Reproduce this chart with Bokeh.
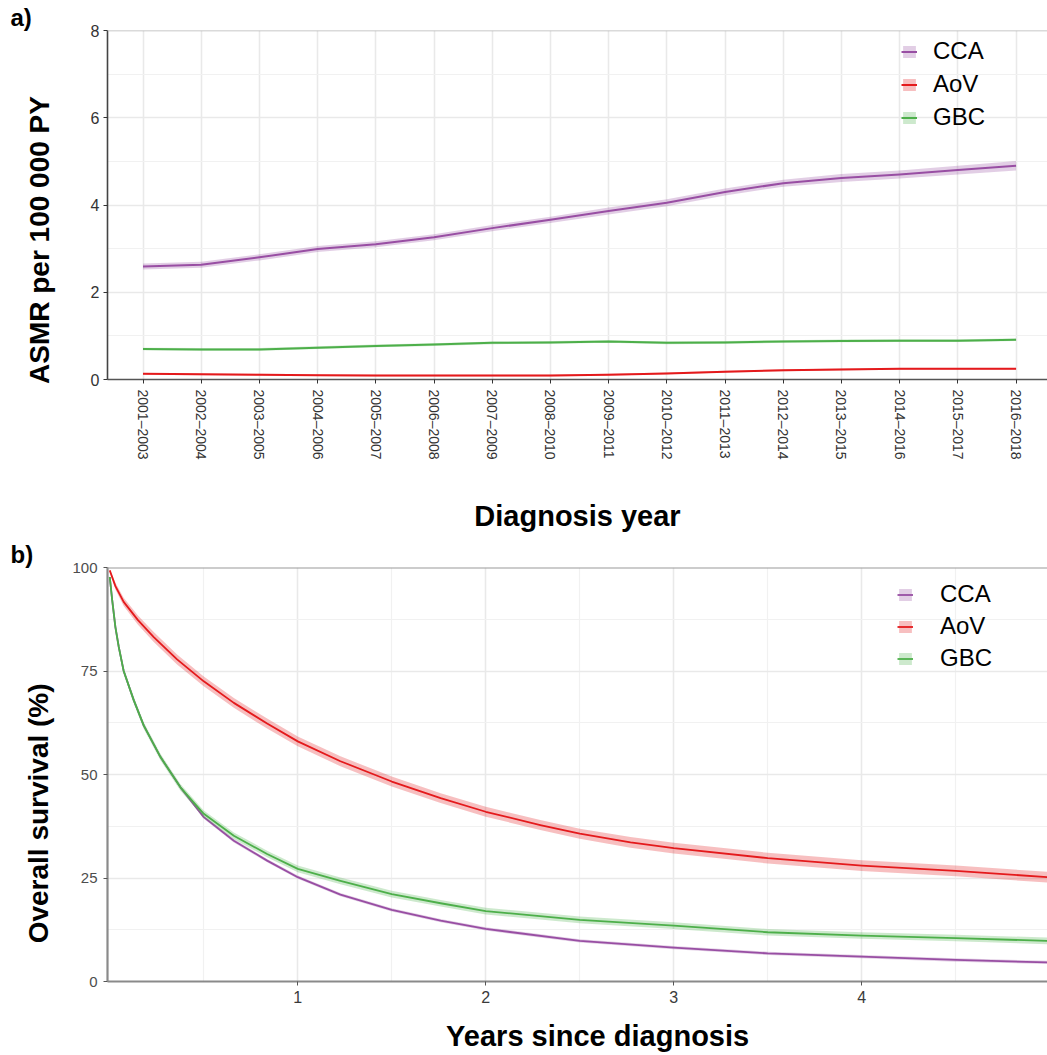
from bokeh.plotting import figure
from bokeh.models import FixedTicker, Legend, LegendItem, Span, Title
from bokeh.layouts import column
from bokeh.embed import file_html
from bokeh.resources import INLINE

# ---------------- data: age-standardised mortality by diagnosis period ----------------
PERIODS = ["2001–2003", "2002–2004", "2003–2005", "2004–2006", "2005–2007",
           "2006–2008", "2007–2009", "2008–2010", "2009–2011", "2010–2012",
           "2011–2013", "2012–2014", "2013–2015", "2014–2016", "2015–2017",
           "2016–2018"]

CCA_RATE = [2.59, 2.63, 2.80, 2.99, 3.10, 3.26, 3.47, 3.66, 3.86, 4.05, 4.30, 4.50, 4.62, 4.70, 4.80, 4.90]
CCA_LO   = [2.52, 2.56, 2.73, 2.92, 3.03, 3.19, 3.40, 3.59, 3.78, 3.97, 4.22, 4.42, 4.53, 4.61, 4.70, 4.79]
CCA_HI   = [2.66, 2.70, 2.87, 3.06, 3.17, 3.33, 3.54, 3.73, 3.94, 4.13, 4.38, 4.58, 4.71, 4.79, 4.90, 5.01]

AOV_RATE = [0.13, 0.12, 0.11, 0.10, 0.09, 0.09, 0.09, 0.09, 0.11, 0.14, 0.18, 0.21, 0.23, 0.245, 0.245, 0.245]
AOV_LO   = [0.11, 0.10, 0.09, 0.08, 0.07, 0.07, 0.07, 0.07, 0.09, 0.12, 0.16, 0.19, 0.21, 0.225, 0.225, 0.225]
AOV_HI   = [0.15, 0.14, 0.13, 0.12, 0.11, 0.11, 0.11, 0.11, 0.13, 0.16, 0.20, 0.23, 0.25, 0.265, 0.265, 0.265]

GBC_RATE = [0.70, 0.69, 0.69, 0.73, 0.77, 0.80, 0.84, 0.85, 0.87, 0.84, 0.85, 0.87, 0.885, 0.89, 0.89, 0.91]
GBC_LO   = [0.67, 0.66, 0.66, 0.70, 0.74, 0.77, 0.81, 0.82, 0.84, 0.81, 0.82, 0.84, 0.855, 0.86, 0.86, 0.88]
GBC_HI   = [0.73, 0.72, 0.72, 0.76, 0.80, 0.83, 0.87, 0.88, 0.90, 0.87, 0.88, 0.90, 0.915, 0.92, 0.92, 0.94]

# ---------------- data: overall survival (%) by years since diagnosis ----------------
AOV_T  = [0, 0.03, 0.074, 0.15, 0.234, 0.358, 0.5, 0.66, 0.837, 1.0, 1.227, 1.5, 1.76,
          2.0, 2.29, 2.5, 2.77, 3.0, 3.5, 4.0, 4.5, 4.99]
AOV_OS = [99.3, 95.5, 91.7, 87.3, 83.2, 77.8, 72.5, 67.3, 62.3, 58.0, 53.2, 48.3, 44.3,
          41.0, 37.8, 35.7, 33.6, 32.2, 29.8, 28.0, 26.7, 25.2]
AOV_OS_LO = [99.0, 94.7, 90.7, 86.2, 82.0, 76.6, 71.3, 66.1, 61.1, 56.8, 52.0, 47.1, 43.1,
             39.8, 36.6, 34.5, 32.3, 30.9, 28.5, 26.7, 25.4, 23.9]
AOV_OS_HI = [99.6, 96.3, 92.7, 88.4, 84.4, 79.0, 73.7, 68.5, 63.5, 59.2, 54.4, 49.5, 45.5,
             42.2, 39.0, 36.9, 34.9, 33.5, 31.1, 29.3, 28.0, 26.5]

BT_T = [0, 0.013, 0.03, 0.048, 0.074, 0.128, 0.181, 0.27, 0.376, 0.5, 0.66, 0.837, 1.0,
        1.227, 1.5, 1.76, 2.0, 2.5, 3.0, 3.5, 4.0, 4.5, 4.99]
CCA_OS    = [97.7, 92.1, 85.6, 80.8, 75.0, 67.9, 61.8, 54.2, 46.9, 39.7, 34.0, 29.2, 25.2,
             21.0, 17.3, 14.7, 12.7, 9.8, 8.2, 6.8, 6.0, 5.2, 4.6]
CCA_OS_LO = [97.4, 91.7, 85.2, 80.4, 74.6, 67.5, 61.4, 53.8, 46.5, 39.3, 33.6, 28.8, 24.8,
             20.6, 16.9, 14.3, 12.3, 9.4, 7.8, 6.4, 5.6, 4.8, 4.2]
CCA_OS_HI = [98.0, 92.5, 86.0, 81.2, 75.4, 68.3, 62.2, 54.6, 47.3, 40.1, 34.4, 29.6, 25.6,
             21.4, 17.7, 15.1, 13.1, 10.2, 8.6, 7.2, 6.4, 5.6, 5.0]
GBC_OS    = [97.7, 92.1, 85.6, 80.8, 75.0, 67.9, 61.8, 54.2, 46.9, 40.5, 35.2, 30.8, 27.2,
             24.3, 21.1, 18.9, 17.0, 14.9, 13.5, 11.9, 11.1, 10.5, 9.8]
GBC_OS_LO = [97.2, 91.5, 85.0, 80.1, 74.2, 67.1, 61.0, 53.4, 46.1, 39.7, 34.4, 30.0, 26.4,
             23.5, 20.3, 18.1, 16.2, 14.1, 12.7, 11.1, 10.3, 9.7, 9.0]
GBC_OS_HI = [98.2, 92.7, 86.2, 81.5, 75.8, 68.7, 62.6, 55.0, 47.7, 41.3, 36.0, 31.6, 28.0,
             25.1, 21.9, 19.7, 17.8, 15.7, 14.3, 12.7, 11.9, 11.3, 10.6]

COLORS = {"CCA": "#984EA3", "AoV": "#E41A1C", "GBC": "#4DAF4A"}
FONT = "Liberation Sans"
GRID_MAJOR = "#e9e9e9"
GRID_MINOR = "#f1f1f1"
NBSP = "\u00a0"


def base_figure(height, x_range, y_range, top, bottom):
    p = figure(width=1047, height=height, x_range=x_range, y_range=y_range,
               output_backend="svg", toolbar_location=None,
               min_border_left=107, min_border_right=0,
               min_border_top=top, min_border_bottom=bottom)
    p.outline_line_color = None
    p.background_fill_color = "white"
    p.border_fill_color = "white"
    for g in (p.xgrid[0], p.ygrid[0]):
        g.grid_line_color = GRID_MAJOR
        g.grid_line_width = 1.6
        g.minor_grid_line_color = GRID_MINOR
        g.minor_grid_line_width = 1.2
    for ax in (p.xaxis[0], p.yaxis[0]):
        ax.minor_tick_line_color = None
        ax.major_tick_in = 0
        ax.major_tick_out = 4
        ax.major_label_text_font = FONT
        ax.axis_label_text_font = FONT
        ax.axis_label_text_font_style = "bold"
        ax.axis_label_text_color = "black"
    return p


def panel_tag(p, text):
    p.add_layout(Title(text=text, align="left", offset=-97, standoff=0,
                       vertical_align="bottom", text_font=FONT,
                       text_font_size="24px", text_font_style="bold",
                       text_color="black"), "above")


def add_legend(p, items, x, y, standoff, spacing):
    leg = Legend(items=items, location=(x, y), padding=0, margin=0,
                 border_line_color=None, background_fill_alpha=0,
                 glyph_width=16, glyph_height=15, label_standoff=standoff,
                 spacing=spacing, label_text_font=FONT, label_text_font_size="24px",
                 label_text_color="black")
    p.add_layout(leg)


# ---------------- panel a ----------------
idx = list(range(len(PERIODS)))
pa = base_figure(537, (-0.61, 15.54), (0, 8), 30, 158)

pa.xaxis.ticker = FixedTicker(ticks=idx)
pa.xaxis.major_label_overrides = {i: lab for i, lab in enumerate(PERIODS)}
pa.xaxis.major_label_orientation = "vertical"
pa.xaxis.major_label_text_font_size = "14px"
pa.xaxis.major_label_text_color = "#333333"
pa.xaxis.major_label_standoff = 6
pa.yaxis.ticker = FixedTicker(ticks=[0, 2, 4, 6, 8], minor_ticks=[1, 3, 5, 7])
pa.yaxis.major_label_text_font_size = "16px"
pa.yaxis.major_label_text_color = "#333333"
pa.yaxis.major_label_standoff = 4
pa.xaxis.axis_line_color = "#555555"
pa.yaxis.axis_line_color = "#444444"
pa.xaxis.axis_line_width = 1.6
pa.yaxis.axis_line_width = 1.6
pa.xaxis.major_tick_line_color = "#333333"
pa.yaxis.major_tick_line_color = "#333333"
pa.add_layout(Span(location=8, dimension="width", line_color="#b5b5b5", line_width=1.5))

pa.xaxis.axis_label = "Diagnosis year"
pa.xaxis.axis_label_text_font_size = "29px"
pa.xaxis.axis_label_standoff = 37
pa.yaxis.axis_label = "ASMR per 100 000 PY" + NBSP * 9
pa.yaxis.axis_label_text_font_size = "28px"
pa.yaxis.axis_label_standoff = 33

items_a = []
for name, val, lo, hi in (("CCA", CCA_RATE, CCA_LO, CCA_HI),
                          ("AoV", AOV_RATE, AOV_LO, AOV_HI),
                          ("GBC", GBC_RATE, GBC_LO, GBC_HI)):
    band = pa.varea(x=idx, y1=lo, y2=hi, fill_color=COLORS[name], fill_alpha=0.28)
    ln = pa.line(x=idx, y=val, line_color=COLORS[name], line_width=2, line_join="round")
    items_a.append(LegendItem(label=name, renderers=[band, ln]))
add_legend(pa, items_a, 794, 248, 16, 5)
panel_tag(pa, "a)")

# ---------------- panel b ----------------
pb = base_figure(518, (-0.012, 4.988), (0, 100), 30, 74)
pb.xaxis.ticker = FixedTicker(ticks=[1, 2, 3, 4], minor_ticks=[0.5, 1.5, 2.5, 3.5, 4.5])
pb.yaxis.ticker = FixedTicker(ticks=[0, 25, 50, 75, 100], minor_ticks=[12.5, 37.5, 62.5, 87.5])
pb.xaxis.major_label_text_font_size = "16px"
pb.yaxis.major_label_text_font_size = "15px"
pb.xaxis.major_label_text_color = "#3a3a3a"
pb.yaxis.major_label_text_color = "#4d4d4d"
pb.xaxis.major_label_standoff = 5
pb.yaxis.major_label_standoff = 6
for ax in (pb.xaxis[0], pb.yaxis[0]):
    ax.axis_line_color = "#8a8a8a"
    ax.axis_line_width = 2.2
    ax.major_tick_line_color = "#555555"
pb.add_layout(Span(location=100, dimension="width", line_color="#9a9a9a", line_width=2))

pb.xaxis.axis_label = NBSP * 5 + "Years since diagnosis"
pb.xaxis.axis_label_text_font_size = "29px"
pb.xaxis.axis_label_standoff = 14
pb.yaxis.axis_label = "Overall survival (%)" + NBSP * 10
pb.yaxis.axis_label_text_font_size = "28px"
pb.yaxis.axis_label_standoff = 15

items_b = []
for name, t, val, lo, hi in (("CCA", BT_T, CCA_OS, CCA_OS_LO, CCA_OS_HI),
                             ("AoV", AOV_T, AOV_OS, AOV_OS_LO, AOV_OS_HI),
                             ("GBC", BT_T, GBC_OS, GBC_OS_LO, GBC_OS_HI)):
    band = pb.varea(x=t, y1=lo, y2=hi, fill_color=COLORS[name], fill_alpha=0.28)
    ln = pb.line(x=t, y=val, line_color=COLORS[name], line_width=1.8, line_join="round")
    items_b.append(LegendItem(label=name, renderers=[band, ln]))
add_legend(pb, items_b, 790, 309, 27, 4)
panel_tag(pb, "b)")

layout = column(pa, pb, spacing=0)
open("out.html", "w").write(file_html(layout, INLINE))
